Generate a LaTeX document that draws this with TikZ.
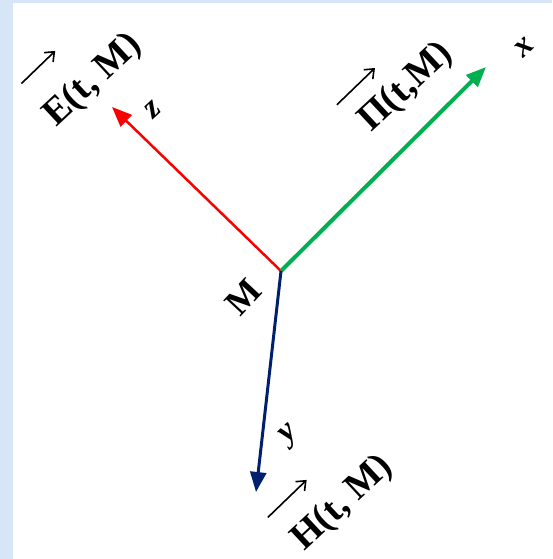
\documentclass[tikz,border=0pt]{standalone}
\usepackage{fontspec}
\setmainfont{Liberation Serif}
\usetikzlibrary{arrows.meta}
\definecolor{bgblue}{RGB}{214,230,246}
\definecolor{axred}{RGB}{250,0,0}
\definecolor{axgreen}{RGB}{0,176,80}
\definecolor{axblue}{RGB}{0,32,110}
\tikzset{
  lbl/.style={inner sep=0pt, font=\fontsize{38}{42}\selectfont\bfseries, rotate=43, anchor=base west},
  ax/.style={font=\fontsize{33}{36}\selectfont\bfseries\itshape, inner sep=0pt, rotate=43},
  axarrow/.style={-{Triangle[length=20pt,width=16pt]}},
  vecarrow/.style={line width=1.6pt, -{Straight Barb[length=8pt,width=13pt]}},
}
\begin{document}
\begin{tikzpicture}[x=1pt,y=-1pt]
\useasboundingbox (0,0) rectangle (552,559);
\fill[white] (0,0) rectangle (552,559);
\fill[bgblue] (0,0) rectangle (13,559);
\fill[bgblue] (0,0) rectangle (552,3);
\coordinate (O) at (281,271);
\coordinate (Zt) at (112,107);
\coordinate (Xt) at (486,67);
\coordinate (Yt) at (256,492);
\draw[axarrow, axred, line width=2.5pt] (O) -- (Zt);
\draw[axarrow, axgreen, line width=4pt] (O) -- (Xt);
\draw[axarrow, axblue, line width=3pt] (O) -- (Yt);
\node[ax] (z) at (153,110) {z};
\node[ax] (x) at (524,47) {x};
\node[ax] (y) at (290,436) {y};
\node[font=\fontsize{36}{40}\selectfont\bfseries, rotate=47, inner sep=0pt] (M) at (243,297) {M};
\node[lbl] (E) at (56,128) {E(t, M)};
\node[lbl] (P) at (371,133) {Π(t,M)};
\node[lbl] (H) at (304,552) {H(t, M)};
\begin{scope}[shift={(E.base west)}, rotate=44]
  \draw[vecarrow] (6,-56) -- (53,-56);
\end{scope}
\begin{scope}[shift={(P.base west)}, rotate=44]
  \draw[vecarrow] (-5,-44) -- (48,-44);
\end{scope}
\begin{scope}[shift={(H.base west)}, rotate=44]
  \draw[vecarrow] (-2,-50) -- (52,-50);
\end{scope}
\end{tikzpicture}
\end{document}
